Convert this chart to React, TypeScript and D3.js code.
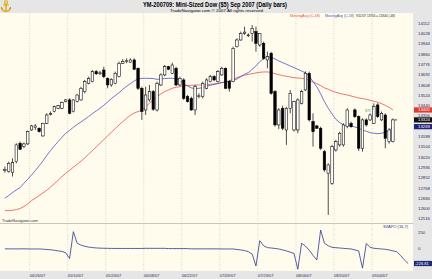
import React from "react";
import * as d3 from "d3";

const dates = [
  "04/17/07","04/18/07","04/19/07","04/20/07","04/23/07","04/24/07","04/25/07","04/26/07","04/27/07","04/30/07",
  "05/01/07","05/02/07","05/03/07","05/04/07","05/07/07","05/08/07","05/09/07","05/10/07","05/11/07","05/14/07",
  "05/15/07","05/16/07","05/17/07","05/18/07","05/21/07","05/22/07","05/23/07","05/24/07","05/25/07","05/29/07",
  "05/30/07","05/31/07","06/01/07","06/04/07","06/05/07","06/06/07","06/07/07","06/08/07","06/11/07","06/12/07",
  "06/13/07","06/14/07","06/15/07","06/18/07","06/19/07","06/20/07","06/21/07","06/22/07","06/25/07","06/26/07",
  "06/27/07","06/28/07","06/29/07","07/02/07","07/03/07","07/05/07","07/06/07","07/09/07","07/10/07","07/11/07",
  "07/12/07","07/13/07","07/16/07","07/17/07","07/18/07","07/19/07","07/20/07","07/23/07","07/24/07","07/25/07",
  "07/26/07","07/27/07","07/30/07","07/31/07","08/01/07","08/02/07","08/03/07","08/06/07","08/07/07","08/08/07",
  "08/09/07","08/10/07","08/13/07","08/14/07","08/15/07","08/16/07","08/17/07","08/20/07","08/21/07","08/22/07",
  "08/23/07","08/24/07","08/27/07","08/28/07","08/29/07","08/30/07","08/31/07","09/04/07","09/05/07","09/06/07",
  "09/07/07","09/10/07","09/11/07",
];
const futureDates = ["09/12/07","09/13/07","09/14/07","09/17/07","09/18/07"];

const opens = [
  12910,12902,12894,12984,13133,13106,13128,13242,13262,13256,
  13193,13296,13370,13392,13419,13419,13473,13487,13392,13473,
  13487,13555,13623,13636,13718,13700,13731,13663,13609,13623,
  13677,13786,13800,13795,13813,13745,13582,13405,13487,13555,
  13405,13609,13691,13758,13704,13745,13609,13650,13514,13500,
  13405,13514,13514,13582,13636,13677,13636,13691,13745,13636,
  13636,13921,13976,14030,14010,14030,14044,13935,13949,13813,
  13867,13555,13283,13419,13242,13419,13242,13242,13459,13568,
  13704,13310,13275,13256,13065,12889,12807,13079,13120,13120,
  13269,13296,13405,13351,13093,13324,13324,13296,13446,13324,
  13364,13147,13147,
];
const highs = [
  12943,12984,13011,13133,13147,13140,13237,13283,13290,13262,
  13300,13378,13392,13440,13446,13473,13495,13500,13493,13534,
  13595,13650,13677,13731,13731,13725,13758,13670,13663,13718,
  13800,13820,13826,13826,13826,13752,13595,13595,13609,13568,
  13636,13704,13772,13765,13790,13758,13677,13663,13527,13514,
  13609,13541,13636,13663,13691,13690,13731,13758,13752,13650,
  13921,13990,14044,14085,14030,14098,14085,14030,13962,13881,
  13880,13568,13420,13440,13430,13568,13480,13500,13570,13720,
  13718,13378,13283,13269,13079,12970,13120,13161,13228,13296,
  13419,13310,13419,13360,13337,13337,13378,13459,13460,13392,
  13378,13256,13337,
];
const lows = [
  12894,12894,12862,12970,13079,13093,13120,13235,13242,13221,
  13188,13290,13360,13385,13411,13411,13466,13370,13385,13466,
  13480,13541,13615,13630,13690,13690,13663,13582,13595,13615,
  13670,13780,13786,13790,13731,13568,13324,13364,13473,13398,
  13392,13600,13680,13730,13698,13600,13600,13487,13466,13398,
  13364,13500,13500,13575,13630,13640,13630,13684,13575,13555,
  13630,13915,13970,14017,14000,13962,13881,13920,13815,13745,
  13530,13269,13250,13240,13120,13378,13228,13215,13450,13560,
  13310,13106,13250,13079,12900,12549,12794,13065,13106,13106,
  13256,13260,13340,13070,13065,13270,13315,13290,13340,13315,
  13093,13130,13140,
];
const closes = [
  12921,12970,12976,13120,13084,13128,13228,13275,13275,13228,
  13296,13364,13378,13432,13440,13466,13487,13378,13487,13527,
  13582,13636,13663,13718,13700,13708,13677,13609,13655,13704,
  13786,13799,13806,13813,13737,13582,13392,13527,13555,13411,
  13623,13691,13758,13737,13772,13609,13663,13500,13473,13405,
  13595,13520,13623,13650,13677,13650,13718,13745,13582,13582,
  13908,13976,14030,14040,14017,14071,13949,14030,13826,13840,
  13541,13283,13405,13256,13419,13541,13473,13487,13555,13704,
  13324,13228,13256,13093,12916,12957,13106,13147,13215,13283,
  13405,13269,13351,13093,13324,13283,13364,13432,13351,13378,
  13174,13242,13324,
];

const ma48 = [
  12584,12584,12587,12592,12601,12617,12639,12666,12685,12707,
  12728,12750,12777,12804,12832,12862,12889,12913,12938,12962,
  12987,13014,13044,13074,13103,13133,13163,13193,13223,13253,
  13283,13310,13337,13362,13381,13392,13405,13432,13459,13487,
  13514,13536,13555,13568,13582,13590,13595,13601,13604,13606,
  13609,13609,13609,13612,13614,13617,13623,13628,13633,13642,
  13655,13669,13680,13688,13696,13701,13707,13712,13715,13715,
  13710,13701,13693,13685,13680,13674,13669,13666,13663,13658,
  13647,13633,13620,13604,13585,13574,13560,13549,13541,13533,
  13527,13519,13511,13503,13498,13492,13484,13476,13468,13457,
  13443,13427,13405,
];
const ma18 = [
  12685,12707,12731,12753,12772,12807,12840,12875,12910,12949,
  12989,13033,13074,13112,13147,13182,13215,13239,13264,13286,
  13307,13329,13351,13375,13397,13419,13443,13470,13498,13522,
  13546,13574,13598,13620,13642,13658,13663,13663,13663,13661,
  13655,13658,13661,13663,13663,13658,13650,13617,13601,13585,
  13579,13582,13587,13598,13606,13614,13620,13628,13633,13636,
  13644,13658,13677,13696,13710,13737,13764,13799,13824,13837,
  13835,13821,13805,13791,13778,13764,13750,13737,13723,13707,
  13682,13636,13595,13536,13473,13419,13373,13329,13302,13283,
  13277,13272,13267,13256,13242,13231,13220,13215,13212,13215,
  13223,13234,13269,
];
const svapo = [
  2,2,1,1,2,2,1,0,0,0,
  -3,-8,-12,-20,-30,-38,-60,-150,270,89,
  60,42,30,22,16,13,11,10,9,8,
  8,8,8,8,8,8,8,10,10,10,
  10,10,10,6,6,6,6,6,6,2,
  2,2,2,2,2,2,2,0,0,0,
  0,-8,-15,-25,-42,-80,-265,130,50,22,
  15,8,0,-15,-30,-50,-70,-317,89,45,
  -20,-100,-172,296,89,50,26,20,15,10,
  5,0,-15,-30,-300,85,25,11,5,0,
  -5,-15,-30,-42,-100,-170,-226.81,
];

const priceTicks = [14112,14028,13944,13860,13776,13692,13608,13524,13440,13356,13272,13188,13104,13020,12936,12852,12768,12684,12600,12516];
const svapoTicks = [250, 0];
const dateTicks = ["04/26/07","05/10/07","05/24/07","06/08/07","06/22/07","07/09/07","07/23/07","08/06/07","08/20/07","09/04/07"];

const titleText = "YM-200709:  Mini-Sized Dow ($5) Sep 2007  (Daily bars)";
const subtitleText = "TradeNavigator.com \u00A9 2007 All rights reserved";
const legendRed = "MovingAvg (C,48)";
const legendBlue = "MovingAvg (C,18)";
const legendInfo = "9/11/07 13705 = 13340 (-48)";
const svapoName = "SVAPO (16,7)";

const W = 432, H = 279;
const FONT = "'Liberation Sans', Arial, sans-serif";
const BEIGE = "#FFFCEE";
const GRAY = "#E6E6E6";
const RED = "#E8504A";
const BLUE = "#4B52C0";
const NAVY = "#2A3890";

function Anchor() {
  const gold = "#E2A916";
  const dark = "#9A6E00";
  return (
    <g>
      <circle cx={6} cy={2.2} r={1.5} fill="none" stroke={gold} strokeWidth={1.1} />
      <line x1={6} x2={6} y1={3.6} y2={11} stroke={gold} strokeWidth={1.4} />
      <line x1={3.2} x2={8.8} y1={5} y2={5} stroke={gold} strokeWidth={1.2} />
      <path d="M1.5,7.5 Q2.5,11.5 6,11.3 Q9.5,11.5 10.5,7.5" fill="none" stroke={gold} strokeWidth={1.3} />
      <path d="M0.8,8.6 L1.5,7 L2.6,8.4 Z M11.2,8.6 L10.5,7 L9.4,8.4 Z" fill={dark} />
    </g>
  );
}

export default function App() {
  const allSlots = dates.concat(futureDates);
  const x = d3.scaleLinear().domain([-0.5, allSlots.length - 0.5]).range([3, 3 + allSlots.length * 3.804]);
  const y = d3.scaleLinear().domain([12483, 14196]).range([223, 13]);
  const ys = d3.scaleLinear().domain([-344, 390]).range([271, 224]);
  const plotRight = 413;
  const bw = 2.5;

  const lineP = d3.line<number>().x((_, i) => x(i)).y((d) => y(d));
  const lineS = d3.line<number>().x((_, i) => x(i)).y((d) => ys(d));

  const gridXs = dateTicks.map((t) => x(allSlots.indexOf(t) - 0.5));
  const last = closes.length - 1;

  const boxes = [
    { v: ma48[last], fill: "#E03A30" },
    { v: closes[last], fill: "#111" },
    { v: ma18[last], fill: "#23237A" },
  ];

  return (
    <svg width={W} height={H} style={{ position: "absolute", left: 0, top: 0 }} fontFamily={FONT}>
      <rect x={0} y={0} width={W} height={H} fill={GRAY} />
      <rect x={0} y={13} width={plotRight} height={210} fill={BEIGE} />
      <rect x={0} y={224} width={plotRight} height={47} fill={BEIGE} />
      <line x1={0} x2={plotRight} y1={223.5} y2={223.5} stroke="#C9C6BC" strokeWidth={1} />

      {gridXs.map((gx, k) => (
        <g key={k}>
          <line x1={gx} x2={gx} y1={13} y2={223} stroke="#BDBDBD" strokeWidth={0.6} strokeDasharray="1,1.5" />
          <line x1={gx} x2={gx} y1={224} y2={271} stroke="#BDBDBD" strokeWidth={0.6} strokeDasharray="1,1.5" />
        </g>
      ))}

      {/* header */}
      <Anchor />
      <text x={215} y={7} fontSize={6.6} fontWeight="bold" textAnchor="middle" fill="#000" textLength={144} lengthAdjust="spacingAndGlyphs">{titleText}</text>
      <text x={216.5} y={12} fontSize={4.4} textAnchor="middle" fill="#000" textLength={93} lengthAdjust="spacingAndGlyphs">{subtitleText}</text>

      {/* legend */}
      <text x={290} y={16.5} fontSize={4} fill={RED} textLength={30} lengthAdjust="spacingAndGlyphs">{legendRed}</text>
      <text x={325} y={16.5} fontSize={4} fill={BLUE} textLength={29} lengthAdjust="spacingAndGlyphs">{legendBlue}</text>
      <text x={356} y={16.5} fontSize={4} fill="#222" textLength={39} lengthAdjust="spacingAndGlyphs">{legendInfo}</text>

      {/* moving averages */}
      <path d={lineP(ma48) || ""} fill="none" stroke={RED} strokeWidth={0.8} />
      <path d={lineP(ma18) || ""} fill="none" stroke={BLUE} strokeWidth={0.8} />

      {/* candles */}
      {closes.map((c, i) => {
        const o = opens[i];
        const up = c >= o;
        const top = y(Math.max(o, c));
        const bot = y(Math.min(o, c));
        const cx = x(i);
        return (
          <g key={i}>
            <line x1={cx} x2={cx} y1={y(highs[i])} y2={y(lows[i])} stroke="#000" strokeWidth={0.7} />
            <rect x={cx - bw / 2} y={top} width={bw} height={Math.max(bot - top, 0.8)}
              fill={up ? "#fff" : "#000"} stroke="#000" strokeWidth={0.55} />
          </g>
        );
      })}
      <line x1={x(last) + 1.6} x2={x(last) + 4} y1={y(closes[last])} y2={y(closes[last])} stroke="#000" strokeWidth={0.8} />

      {/* marker */}
      <text x={365} y={111.5} fontSize={3.6} fill="#3AA030">STI</text>
      <line x1={373} x2={373} y1={105} y2={110} stroke="#3AA030" strokeWidth={0.7} />

      <text x={2} y={221.5} fontSize={4} fill="#333">TradeNavigator.com</text>

      {/* svapo */}
      <path d={lineS(svapo) || ""} fill="none" stroke={NAVY} strokeWidth={0.8} />
      <text x={408} y={227.5} fontSize={4} fill={NAVY} textAnchor="end">{svapoName}</text>

      {/* right axis */}
      {priceTicks.map((t) => (
        <text key={t} x={418} y={y(t) + 1.5} fontSize={4.3} fill="#2A2A55">{t}</text>
      ))}
      {boxes.map((b, k) => (
        <g key={k}>
          <rect x={414} y={y(b.v) - 2.6} width={18} height={5.2} fill={b.fill} />
          <text x={418} y={y(b.v) + 1.5} fontSize={4.3} fill="#fff">{Math.round(b.v)}</text>
        </g>
      ))}
      {svapoTicks.map((t) => (
        <text key={t} x={418} y={ys(t) + 1.5} fontSize={4.3} fill="#2A2A55">{t}</text>
      ))}
      <rect x={414} y={ys(svapo[svapo.length - 1]) - 2.6} width={18} height={5.2} fill="#1E2A78" />
      <text x={415} y={ys(svapo[svapo.length - 1]) + 1.5} fontSize={4.1} fill="#fff">{svapo[svapo.length - 1].toFixed(2)}</text>

      {/* x axis labels */}
      {dateTicks.map((t, k) => (
        <text key={t} x={gridXs[k]} y={277} fontSize={4} fill="#2A2A55">{t}</text>
      ))}
    </svg>
  );
}
